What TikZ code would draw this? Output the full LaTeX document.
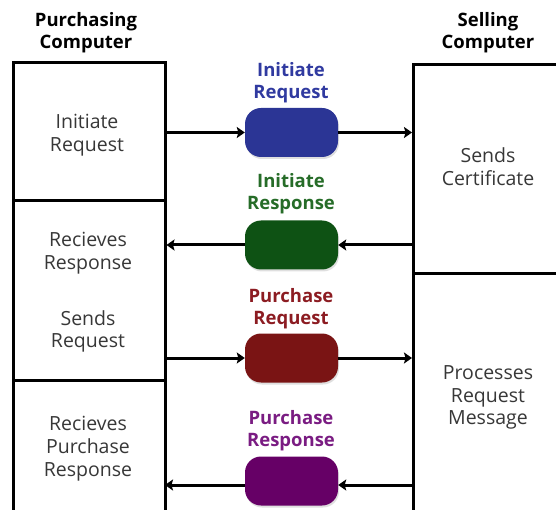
\documentclass[tikz,border=0pt]{standalone}
\usepackage{fontspec}
\setmainfont{Open Sans}
\usetikzlibrary{arrows.meta,shadows}
\definecolor{pillblue}{RGB}{43,53,149}
\definecolor{pillgreen}{RGB}{14,82,20}
\definecolor{pillred}{RGB}{122,20,20}
\definecolor{pillpurple}{RGB}{102,0,102}
\definecolor{labblue}{RGB}{48,58,160}
\definecolor{labgreen}{RGB}{38,108,40}
\definecolor{labred}{RGB}{140,28,34}
\definecolor{labpurple}{RGB}{122,28,130}
\definecolor{boxtext}{RGB}{55,55,55}
\tikzset{
  column/.style={draw=black, line width=3pt, minimum width=152pt, inner sep=0pt},
  bodytext/.style={text=boxtext, font=\fontsize{19.5}{22.8}\selectfont, align=center},
  header/.style={font=\bfseries\fontsize{18.5}{22}\selectfont, align=center},
  pill/.style={rounded corners=16pt, minimum width=93pt, minimum height=49pt,
    inner sep=0pt, drop shadow={opacity=0.25, shadow xshift=1pt, shadow yshift=-2pt}},
  msg/.style={font=\bfseries\fontsize{18.5}{22}\selectfont, align=center},
  arr/.style={line width=3pt, -{Stealth[length=8pt, width=11pt, inset=1.5pt]}},
}
\begin{document}
\begin{tikzpicture}[x=1pt, y=-1pt]
\useasboundingbox (0,0) rectangle (556,510);
\clip (0,0) rectangle (556,510);

% column headers
\node[header] (hbuy) at (86,32.5) {Purchasing\\Computer};
\node[header] (hsell) at (488,32.5) {Selling\\Computer};

% purchasing computer column
\node[column, minimum height=138pt] (lb1) at (89,132) {};
\node[column, minimum height=179pt] (lb2) at (89,290.5) {};
\node[column, minimum height=150pt] (lb3) at (89,455) {};

% selling computer column
\node[column, minimum width=160pt, minimum height=209pt, anchor=north west] (rb1) at (412,63) {};
\node[column, minimum width=160pt, minimum height=250pt, anchor=north west] (rb2) at (412,272) {};

% texts inside the columns
\node[bodytext] (t1) at (87,135.5) {Initiate\\Request};
\node[bodytext] (t2) at (88,253.5) {Recieves\\Response};
\node[bodytext] (t3) at (88,331.5) {Sends\\Request};
\node[bodytext] (t4) at (88,448.5) {Recieves\\Purchase\\Response};
\node[bodytext] (t5) at (488,166.5) {Sends\\Certificate};
\node[bodytext] (t6) at (488,397.5) {Processes\\Request\\Message};

% message pills and their labels
\node[pill, fill=pillblue] (p1) at (291.5,132.5) {};
\node[pill, fill=pillgreen] (p2) at (291.5,245) {};
\node[pill, fill=pillred] (p3) at (291.5,358) {};
\node[pill, fill=pillpurple] (p4) at (291.5,481) {};

\node[msg, text=labblue] (m1) at (291,83) {Initiate\\Request};
\node[msg, text=labgreen] (m2) at (291,194) {Initiate\\Response};
\node[msg, text=labred] (m3) at (291,309) {Purchase\\Request};
\node[msg, text=labpurple] (m4) at (291,431) {Purchase\\Response};

% message flow
\draw[arr] (lb1.east |- p1.west) -- (p1.west);
\draw[arr] (p1.east) -- (rb1.west |- p1.east);
\draw[arr] (rb1.west |- p2.east) -- (p2.east);
\draw[arr] (p2.west) -- (lb2.east |- p2.west);
\draw[arr] (lb2.east |- p3.west) -- (p3.west);
\draw[arr] (p3.east) -- (rb2.west |- p3.east);
\coordinate (r4) at (412,485);
\coordinate (l4) at (165,485);
\draw[arr] (r4) -- (p4.east |- r4);
\draw[arr] (p4.west |- l4) -- (l4);
\end{tikzpicture}
\end{document}
